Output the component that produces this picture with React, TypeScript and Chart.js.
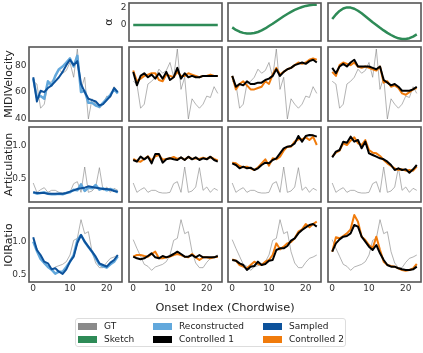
import React, { useEffect, useRef } from 'react';
import { Chart, registerables } from 'chart.js';
Chart.register(...registerables);

const FONT = "'DejaVu Sans', sans-serif";

// ---------- data ----------
const onsets = [0, 1, 2, 3, 4, 5, 6, 7, 8, 9, 10, 11, 12, 13, 14, 15, 16, 17, 18, 19, 20, 21, 22, 23];
const xTickValues = [0, 10, 20];

const sketchFlat = [0, 0, 0, 0, 0, 0, 0, 0, 0, 0, 0, 0, 0, 0, 0, 0, 0, 0, 0, 0, 0, 0, 0, 0];
const sketchRise = [-0.26, -0.55, -0.75, -0.88, -0.94, -0.95, -0.9, -0.78, -0.6, -0.38, -0.1, 0.15, 0.44, 0.72, 1.0, 1.26, 1.5, 1.72, 1.9, 2.05, 2.17, 2.25, 2.29, 2.3];
const sketchFall = [0.68, 1.2, 1.6, 1.88, 2.0, 1.98, 1.85, 1.62, 1.33, 1.0, 0.66, 0.32, 0.02, -0.3, -0.6, -0.88, -1.12, -1.34, -1.5, -1.58, -1.57, -1.48, -1.3, -1.05];
const alphaTicks = [0, 2];
const alphaTickLabels = ['0', '2'];

const velGT = [68, 66, 48, 51, 66, 68, 71, 77, 74, 76, 82, 71, 92, 62, 71, 40, 55, 51, 48, 51, 57, 56, 64, 59];
const velRecon = [70, 56, 57, 55, 68, 65, 72, 77, 79, 82, 85, 79, 87, 60, 61, 52, 52, 50, 49, 52, 55, 58, 62, 59];
const velSampled = [71, 53, 61, 60, 63, 65, 68, 71, 75, 80, 84, 80, 83, 66, 60, 55, 54, 53, 50, 51, 54, 57, 63, 60];
const velC1Flat = [75, 65, 72, 74, 71, 73, 70, 74, 70, 75, 69, 71, 78, 70, 74, 71, 72, 71, 71, 72, 72, 72, 72, 72];
const velC2Flat = [76, 68, 70, 72, 73, 74, 74, 69, 68, 73, 72, 71, 75, 72, 72, 74, 73, 72, 71, 72, 72, 73, 72, 72];
const velC1Rise = [72, 64, 66, 65, 68, 66, 66, 67, 67, 69, 70, 72, 77, 72, 75, 77, 78, 80, 81, 82, 81, 83, 84, 82];
const velC2Rise = [72, 62, 66, 68, 65, 62, 62, 63, 64, 68, 66, 73, 78, 73, 75, 77, 78, 80, 82, 81, 82, 84, 85, 84];
const velC1Fall = [78, 74, 79, 81, 79, 82, 84, 79, 79, 79, 79, 78, 77, 79, 69, 67, 65, 66, 64, 61, 61, 61, 62, 64];
const velC2Fall = [75, 72, 80, 82, 81, 80, 82, 79, 78, 79, 78, 77, 76, 79, 67, 68, 64, 65, 63, 59, 58, 60, 62, 63];
const velTicks = [40, 60, 80];
const velTickLabels = ['40', '60', '80'];

const artGT = [0.44, 0.3, 0.34, 0.37, 0.3, 0.33, 0.33, 0.3, 0.29, 0.29, 0.3, 0.43, 0.46, 0.3, 0.68, 0.3, 0.32, 0.38, 0.67, 0.33, 0.38, 0.3, 0.36, 0.33];
const artRecon = [0.3, 0.28, 0.29, 0.3, 0.28, 0.27, 0.27, 0.28, 0.27, 0.29, 0.3, 0.34, 0.33, 0.42, 0.32, 0.37, 0.36, 0.41, 0.34, 0.36, 0.33, 0.35, 0.33, 0.3];
const artSampled = [0.3, 0.29, 0.29, 0.29, 0.28, 0.28, 0.28, 0.28, 0.28, 0.29, 0.31, 0.33, 0.35, 0.36, 0.37, 0.39, 0.38, 0.37, 0.36, 0.35, 0.35, 0.34, 0.32, 0.31];
const artC1Flat = [0.785, 0.76, 0.835, 0.795, 0.835, 0.735, 0.875, 0.875, 0.745, 0.795, 0.81, 0.795, 0.785, 0.825, 0.785, 0.835, 0.795, 0.825, 0.785, 0.81, 0.795, 0.835, 0.785, 0.76];
const artC2Flat = [0.8, 0.77, 0.76, 0.8, 0.84, 0.78, 0.84, 0.86, 0.79, 0.8, 0.81, 0.83, 0.8, 0.82, 0.79, 0.83, 0.8, 0.81, 0.8, 0.82, 0.8, 0.83, 0.8, 0.78];
const artC1Rise = [0.735, 0.71, 0.66, 0.685, 0.66, 0.67, 0.635, 0.66, 0.71, 0.745, 0.735, 0.785, 0.81, 0.885, 0.96, 0.985, 0.995, 1.035, 1.145, 1.06, 1.145, 1.16, 1.155, 1.135];
const artC2Rise = [0.745, 0.735, 0.695, 0.675, 0.685, 0.66, 0.635, 0.675, 0.735, 0.795, 0.7, 0.81, 0.795, 0.835, 0.925, 0.985, 0.985, 1.06, 1.095, 1.095, 1.125, 1.085, 1.135, 1.01];
const artC1Fall = [0.825, 0.91, 0.935, 1.06, 1.045, 1.135, 1.06, 1.085, 0.96, 1.06, 0.885, 0.86, 0.835, 0.81, 0.795, 0.76, 0.71, 0.635, 0.66, 0.635, 0.645, 0.595, 0.645, 0.71];
const artC2Fall = [0.835, 0.895, 0.925, 1.035, 1.01, 1.075, 1.125, 1.035, 1.01, 1.085, 0.935, 0.895, 0.885, 0.845, 0.785, 0.735, 0.695, 0.66, 0.635, 0.645, 0.625, 0.635, 0.625, 0.685];
const artTicks = [0.5, 1.0];
const artTickLabels = ['0.5', '1.0'];

const ioiGT = [1.03, 0.9, 0.78, 0.66, 0.63, 0.57, 0.62, 0.64, 0.66, 0.7, 0.8, 1.02, 1.05, 1.33, 1.12, 1.15, 0.85, 0.68, 0.61, 0.61, 0.69, 0.75, 0.77, 0.8];
const ioiRecon = [1.0, 0.86, 0.74, 0.68, 0.62, 0.58, 0.52, 0.55, 0.55, 0.62, 0.7, 0.8, 1.02, 1.1, 1.0, 0.92, 0.85, 0.75, 0.66, 0.63, 0.61, 0.66, 0.7, 0.78];
const ioiSampled = [1.065, 0.875, 0.8, 0.7, 0.675, 0.585, 0.6, 0.55, 0.515, 0.585, 0.7, 0.775, 0.98, 1.1, 1.0, 0.925, 0.85, 0.775, 0.675, 0.65, 0.625, 0.685, 0.725, 0.8];
const ioiC1Flat = [0.775, 0.75, 0.735, 0.75, 0.785, 0.825, 0.765, 0.75, 0.785, 0.765, 0.785, 0.815, 0.85, 0.815, 0.775, 0.775, 0.8, 0.765, 0.8, 0.765, 0.765, 0.765, 0.765, 0.785];
const ioiC2Flat = [0.775, 0.8, 0.8, 0.785, 0.775, 0.815, 0.85, 0.75, 0.75, 0.765, 0.775, 0.8, 0.815, 0.8, 0.775, 0.765, 0.815, 0.765, 0.725, 0.765, 0.765, 0.75, 0.765, 0.775];
const ioiC1Rise = [0.725, 0.715, 0.675, 0.65, 0.575, 0.625, 0.635, 0.7, 0.65, 0.665, 0.715, 0.725, 0.875, 0.9, 0.9, 0.935, 1.015, 1.05, 1.125, 1.175, 1.215, 1.25, 1.265, 1.225];
const ioiC2Rise = [0.735, 0.715, 0.65, 0.625, 0.6, 0.65, 0.7, 0.665, 0.65, 0.7, 0.725, 0.8, 0.975, 0.885, 0.925, 0.975, 0.995, 1.05, 1.15, 1.185, 1.265, 1.215, 1.265, 1.3];
const ioiC1Fall = [0.85, 0.975, 1.035, 1.075, 1.085, 1.125, 1.25, 1.225, 1.075, 1.0, 0.925, 0.875, 0.95, 0.825, 0.725, 0.65, 0.625, 0.625, 0.6, 0.585, 0.575, 0.575, 0.585, 0.625];
const ioiC2Fall = [0.85, 1.065, 1.05, 1.085, 1.125, 1.185, 1.4, 1.3, 1.075, 1.025, 0.95, 0.9, 1.075, 0.875, 0.7, 0.65, 0.635, 0.625, 0.6, 0.575, 0.565, 0.575, 0.6, 0.665];
const ioiTicks = [0.5, 1.0];
const ioiTickLabels = ['0.5', '1.0'];

// ---------- styles ----------
const C_GT = 'rgba(128,128,128,0.6)';
const C_SKETCH = '#2e8b57';
const C_RECON = '#62a8dc';
const C_SAMPLED = '#0d529b';
const C_C1 = '#000000';
const C_C2 = '#f07b0c';

type Series = { values: number[]; color: string; width: number };

interface PanelProps {
  left: number; top: number; width: number; height: number;
  padL: number; padB: number;
  series: Series[];
  yMin: number; yMax: number;
  yTicks?: number[]; yTickLabels?: string[]; yTitle?: string;
  showX?: boolean;
}

const PAD = 4;

function zeroPad(s: any) {
  s.paddingTop = 0;
  s.paddingBottom = 0;
  s.paddingLeft = 0;
  s.paddingRight = 0;
}

function Panel(p: PanelProps) {
  const ref = useRef<HTMLCanvasElement>(null);
  const cw = p.width + p.padL + PAD;
  const ch = p.height + PAD + p.padB;
  useEffect(() => {
    const frame = {
      id: 'frame',
      afterDatasetsDraw(chart: any) {
        const { ctx, chartArea: a } = chart;
        ctx.save();
        ctx.strokeStyle = '#555555';
        ctx.lineWidth = 1.6;
        ctx.strokeRect(a.left, a.top, a.right - a.left, a.bottom - a.top);
        ctx.restore();
      },
    };
    const chart = new Chart(ref.current as HTMLCanvasElement, {
      type: 'line',
      data: {
        datasets: p.series.map((s) => ({
          data: s.values.map((v, i) => ({ x: onsets[i], y: v })),
          borderColor: s.color,
          borderWidth: s.width,
          pointRadius: 0,
          fill: false,
          tension: 0,
          clip: 0,
          borderJoinStyle: 'round',
        })),
      },
      options: {
        animation: false,
        responsive: false,
        maintainAspectRatio: false,
        events: [],
        layout: { padding: { left: 0, top: PAD, right: PAD, bottom: 0 }, autoPadding: false },
        plugins: { legend: { display: false }, tooltip: { enabled: false } },
        scales: {
          x: {
            type: 'linear',
            min: -1.15,
            max: 24.15,
            grid: { display: false, drawTicks: false },
            border: { display: false },
            ticks: {
              display: !!p.showX,
              font: { family: FONT, size: 9 },
              color: '#333333',
              padding: 1,
              maxRotation: 0,
              autoSkip: false,
            },
            afterBuildTicks: (s: any) => { s.ticks = xTickValues.map((v) => ({ value: v })); },
            afterFit: (s: any) => { s.height = p.padB; zeroPad(s); },
          },
          y: {
            type: 'linear',
            min: p.yMin,
            max: p.yMax,
            grid: { display: false, drawTicks: false },
            border: { display: false },
            ticks: {
              display: !!p.yTicks,
              font: { family: FONT, size: 9 },
              color: '#333333',
              padding: 2.5,
              autoSkip: false,
              callback: (_v: any, idx: number) => (p.yTickLabels ? p.yTickLabels[idx] : ''),
            },
            afterBuildTicks: (s: any) => { s.ticks = (p.yTicks || []).map((v) => ({ value: v })); },
            afterFit: (s: any) => { s.width = p.padL; zeroPad(s); },
            title: {
              display: !!p.yTitle,
              text: p.yTitle || '',
              font: { family: FONT, size: 11 },
              color: '#222222',
              padding: { top: 3, bottom: 0 },
            },
          },
        },
      },
      plugins: [frame],
    } as any);
    return () => chart.destroy();
  }, []);
  return (
    <canvas
      ref={ref}
      width={cw}
      height={ch}
      style={{ position: 'absolute', left: p.left - p.padL, top: p.top - PAD, width: cw, height: ch }}
    />
  );
}

const colLefts = [29, 129, 228, 328];
const colW = 93;
const rowTops = [3, 47, 127, 208];
const rowHs = [38, 74, 75, 74];

const alphaRange = [-1.8, 2.5];
const velRange = [38.5, 93.5];
const artRange = [0.155, 1.28];
const ioiRange = [0.395, 1.505];

type RowDef = {
  title: string; range: number[]; ticks: number[]; labels: string[];
  gt: number[]; recon: number[]; sampled: number[];
  c1: number[][]; c2: number[][];
};

const rows: RowDef[] = [
  { title: 'MIDIVelocity', range: velRange, ticks: velTicks, labels: velTickLabels, gt: velGT, recon: velRecon, sampled: velSampled, c1: [velC1Flat, velC1Rise, velC1Fall], c2: [velC2Flat, velC2Rise, velC2Fall] },
  { title: 'Articulation', range: artRange, ticks: artTicks, labels: artTickLabels, gt: artGT, recon: artRecon, sampled: artSampled, c1: [artC1Flat, artC1Rise, artC1Fall], c2: [artC2Flat, artC2Rise, artC2Fall] },
  { title: 'IOIRatio', range: ioiRange, ticks: ioiTicks, labels: ioiTickLabels, gt: ioiGT, recon: ioiRecon, sampled: ioiSampled, c1: [ioiC1Flat, ioiC1Rise, ioiC1Fall], c2: [ioiC2Flat, ioiC2Rise, ioiC2Fall] },
];

const sketches = [sketchFlat, sketchRise, sketchFall];

const legendItems = [
  { label: 'GT', color: '#8a8a8a', x: 78, y: 326 },
  { label: 'Sketch', color: C_SKETCH, x: 78, y: 339 },
  { label: 'Reconstructed', color: C_RECON, x: 153, y: 326 },
  { label: 'Controlled 1', color: C_C1, x: 153, y: 339 },
  { label: 'Sampled', color: C_SAMPLED, x: 263, y: 326 },
  { label: 'Controlled 2', color: C_C2, x: 263, y: 339 },
];

export default function App() {
  const panels: any[] = [];
  sketches.forEach((sk, k) => {
    const c = k + 1;
    panels.push(
      <Panel key={'a' + k} left={colLefts[c]} top={rowTops[0]} width={colW} height={rowHs[0]}
        padL={k === 0 ? 29 : 3} padB={3}
        series={[{ values: sk, color: C_SKETCH, width: 2.5 }]}
        yMin={alphaRange[0]} yMax={alphaRange[1]}
        yTicks={k === 0 ? alphaTicks : undefined} yTickLabels={k === 0 ? alphaTickLabels : undefined}
        yTitle={k === 0 ? 'α' : undefined} />
    );
  });
  rows.forEach((r, ri) => {
    const top = rowTops[ri + 1];
    const h = rowHs[ri + 1];
    const bottom = ri === rows.length - 1;
    panels.push(
      <Panel key={'r' + ri + 'c0'} left={colLefts[0]} top={top} width={colW} height={h}
        padL={29} padB={bottom ? 22 : 3}
        series={[
          { values: r.sampled, color: C_SAMPLED, width: 2 },
          { values: r.recon, color: C_RECON, width: 2.5 },
          { values: r.gt, color: C_GT, width: 1 },
        ]}
        yMin={r.range[0]} yMax={r.range[1]} yTicks={r.ticks} yTickLabels={r.labels} yTitle={r.title}
        showX={bottom} />
    );
    for (let k = 0; k < 3; k++) {
      panels.push(
        <Panel key={'r' + ri + 'c' + (k + 1)} left={colLefts[k + 1]} top={top} width={colW} height={h}
          padL={3} padB={bottom ? 22 : 3}
          series={[
            { values: r.c1[k], color: C_C1, width: 2 },
            { values: r.c2[k], color: C_C2, width: 2 },
            { values: r.gt, color: C_GT, width: 1 },
          ]}
          yMin={r.range[0]} yMax={r.range[1]}
          showX={bottom} />
      );
    }
  });
  return (
    <div style={{ position: 'absolute', left: 0, top: 0, width: 423, height: 353, background: '#fff', overflow: 'hidden' }}>
      {panels}
      <div style={{ position: 'absolute', left: 0, top: 301, width: 450, textAlign: 'center', fontFamily: FONT, fontSize: 11.3, lineHeight: '13px', color: '#222' }}>
        Onset Index (Chordwise)
      </div>
      <div style={{ position: 'absolute', left: 75, top: 318, width: 271, height: 29, border: '1px solid #dddddd', borderRadius: 3, boxSizing: 'border-box' }} />
      {legendItems.map((it) => (
        <React.Fragment key={it.label}>
          <div style={{ position: 'absolute', left: it.x, top: it.y - 3.5, width: 19, height: 7, background: it.color }} />
          <div style={{ position: 'absolute', left: it.x + 26, top: it.y - 6, fontFamily: FONT, fontSize: 9, lineHeight: '12px', color: '#222', whiteSpace: 'nowrap' }}>
            {it.label}
          </div>
        </React.Fragment>
      ))}
    </div>
  );
}
